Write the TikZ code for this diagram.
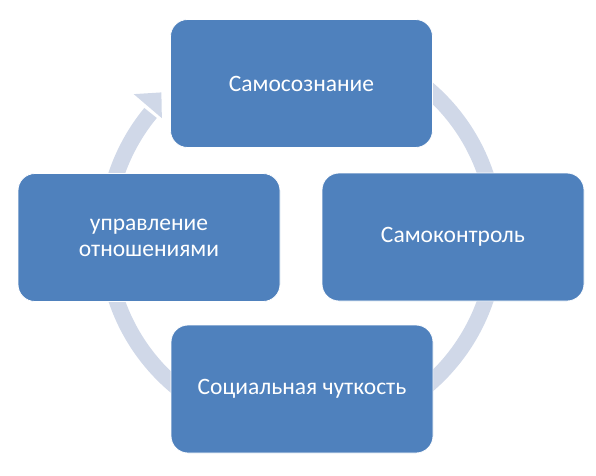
\documentclass[tikz,border=0pt]{standalone}
\usepackage{fontspec}
\setmainfont{Carlito}
\definecolor{boxblue}{RGB}{79,129,189}
\definecolor{ringgray}{RGB}{208,216,232}
\tikzset{
  cyclebox/.style={draw=white, line width=0.8pt, fill=boxblue, rounded corners=17pt,
    minimum width=262pt, minimum height=128pt, inner sep=0pt, text=white,
    font=\fontsize{23.5}{26}\selectfont, align=center},
}
\begin{document}
\begin{tikzpicture}[x=1pt,y=1pt]
\useasboundingbox (0,0) rectangle (596,475);
\coordinate (c) at (301,238);
% ring arrow
\begin{scope}[shift={(301,238)}]
  \draw[ringgray, line width=16pt] (100:195) arc[start angle=100, end angle=-219.5, radius=195];
  \fill[ringgray] (139.5:183) -- (139.5:220) -- (134:201) -- cycle;
\end{scope}
\node[cyclebox] (top) at (301.5,391.5) {Самосознание};
\node[cyclebox] (right) at (453,238) {Самоконтроль};
\node[cyclebox] (bottom) at (302,86) {Социальная чуткость};
\node[cyclebox] (left) at (149,237.5) {управление\\отношениями};
\end{tikzpicture}
\end{document}
